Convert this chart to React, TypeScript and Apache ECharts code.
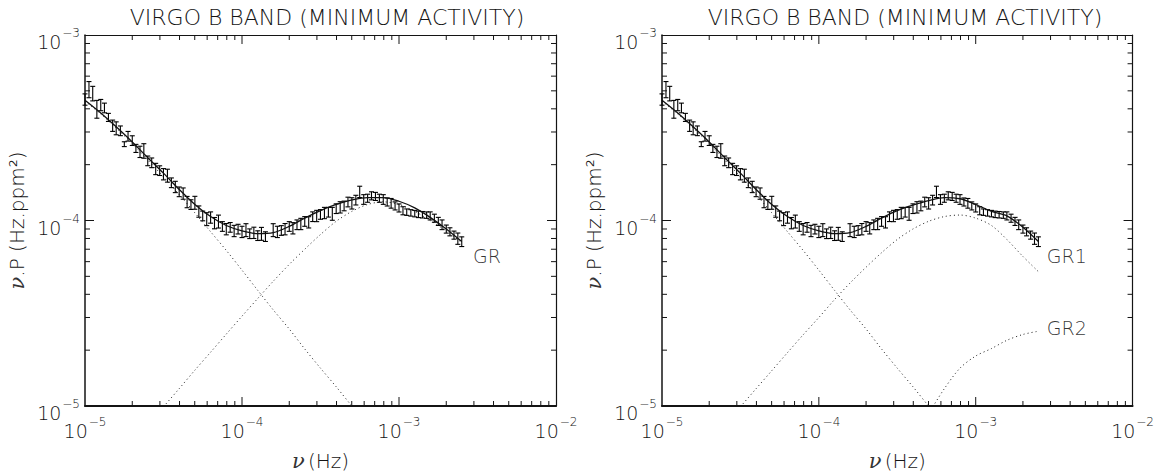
import React, { useEffect, useRef } from "react";
import * as echarts from "echarts";

// ---------- DATA ----------
const binFreq = [
  1.00e-5, 1.06e-5, 1.12e-5, 1.19e-5, 1.26e-5, 1.33e-5, 1.41e-5, 1.50e-5, 1.58e-5, 1.68e-5,
  1.78e-5, 1.88e-5, 2.00e-5, 2.11e-5, 2.24e-5, 2.37e-5, 2.51e-5, 2.66e-5, 2.82e-5, 2.99e-5,
  3.16e-5, 3.35e-5, 3.55e-5, 3.76e-5, 3.98e-5, 4.22e-5, 4.47e-5, 4.73e-5, 5.01e-5, 5.31e-5,
  5.62e-5, 5.96e-5, 6.31e-5, 6.68e-5, 7.08e-5, 7.50e-5, 7.94e-5, 8.41e-5, 8.91e-5, 9.44e-5,
  1.00e-4, 1.06e-4, 1.12e-4, 1.19e-4, 1.26e-4, 1.33e-4, 1.41e-4, 1.58e-4, 1.68e-4, 1.78e-4,
  1.88e-4, 2.00e-4, 2.11e-4, 2.24e-4, 2.37e-4, 2.51e-4, 2.66e-4, 2.82e-4, 2.99e-4, 3.16e-4,
  3.35e-4, 3.55e-4, 3.76e-4, 3.98e-4, 4.22e-4, 4.47e-4, 4.73e-4, 5.01e-4, 5.31e-4, 5.62e-4,
  5.96e-4, 6.31e-4, 6.68e-4, 7.08e-4, 7.50e-4, 7.94e-4, 8.41e-4, 8.91e-4, 9.44e-4, 1.00e-3,
  1.06e-3, 1.12e-3, 1.19e-3, 1.26e-3, 1.33e-3, 1.41e-3, 1.50e-3, 1.58e-3, 1.68e-3, 1.78e-3,
  1.88e-3, 2.00e-3, 2.11e-3, 2.24e-3, 2.37e-3, 2.51e-3,
];
const binPower = [
  4.50e-4, 5.10e-4, 4.85e-4, 4.00e-4, 4.20e-4, 4.05e-4, 3.60e-4, 3.25e-4, 3.15e-4, 3.05e-4,
  2.58e-4, 2.85e-4, 2.70e-4, 2.45e-4, 2.35e-4, 2.38e-4, 2.10e-4, 2.05e-4, 1.90e-4, 1.86e-4,
  1.78e-4, 1.75e-4, 1.60e-4, 1.52e-4, 1.43e-4, 1.40e-4, 1.26e-4, 1.22e-4, 1.25e-4, 1.12e-4,
  1.06e-4, 1.02e-4, 1.04e-4, 9.70e-5, 9.90e-5, 9.30e-5, 9.00e-5, 9.20e-5, 8.80e-5, 9.00e-5,
  8.70e-5, 8.90e-5, 8.50e-5, 8.60e-5, 8.30e-5, 8.50e-5, 8.20e-5, 8.90e-5, 8.70e-5, 8.85e-5,
  9.00e-5, 9.30e-5, 9.10e-5, 9.50e-5, 9.60e-5, 9.90e-5, 9.80e-5, 1.05e-4, 1.06e-4, 1.08e-4,
  1.10e-4, 1.11e-4, 1.09e-4, 1.16e-4, 1.18e-4, 1.20e-4, 1.26e-4, 1.24e-4, 1.29e-4, 1.43e-4,
  1.30e-4, 1.32e-4, 1.36e-4, 1.35e-4, 1.32e-4, 1.30e-4, 1.26e-4, 1.24e-4, 1.20e-4, 1.17e-4,
  1.13e-4, 1.11e-4, 1.10e-4, 1.09e-4, 1.08e-4, 1.075e-4, 1.07e-4, 1.06e-4, 1.03e-4, 9.90e-5,
  9.50e-5, 9.00e-5, 8.70e-5, 8.35e-5, 8.00e-5, 7.70e-5,
];
// relative half-size of each error bar
const binError = [
  0.07, 0.10, 0.09, 0.11, 0.07, 0.06, 0.05, 0.07, 0.08, 0.06,
  0.03, 0.06, 0.06, 0.05, 0.07, 0.09, 0.06, 0.06, 0.07, 0.06,
  0.07, 0.08, 0.06, 0.07, 0.06, 0.07, 0.07, 0.06, 0.08, 0.07,
  0.06, 0.08, 0.07, 0.07, 0.08, 0.06, 0.07, 0.06, 0.07, 0.06,
  0.07, 0.08, 0.06, 0.07, 0.06, 0.08, 0.06, 0.08, 0.07, 0.06,
  0.07, 0.06, 0.07, 0.06, 0.07, 0.06, 0.07, 0.06, 0.07, 0.06,
  0.07, 0.06, 0.08, 0.06, 0.07, 0.06, 0.06, 0.07, 0.06, 0.07,
  0.06, 0.05, 0.05, 0.05, 0.05, 0.06, 0.05, 0.06, 0.05, 0.05,
  0.05, 0.04, 0.04, 0.04, 0.04, 0.04, 0.04, 0.05, 0.05, 0.05,
  0.06, 0.05, 0.05, 0.05, 0.07, 0.06,
];

const fitFreq = [
  1.00e-5, 1.26e-5, 1.58e-5, 2.00e-5, 2.51e-5, 3.16e-5, 3.98e-5, 5.01e-5, 6.31e-5, 7.94e-5,
  1.00e-4, 1.26e-4, 1.58e-4, 2.00e-4, 2.51e-4, 3.16e-4, 3.98e-4, 5.01e-4, 6.31e-4, 7.94e-4,
  1.00e-3, 1.26e-3, 1.58e-3, 2.00e-3, 2.51e-3,
];
const totalFitLeft = [
  4.45e-4, 3.80e-4, 3.20e-4, 2.65e-4, 2.18e-4, 1.80e-4, 1.47e-4, 1.22e-4, 1.05e-4, 9.40e-5,
  8.80e-5, 8.50e-5, 8.60e-5, 9.30e-5, 1.03e-4, 1.13e-4, 1.22e-4, 1.29e-4, 1.33e-4, 1.33e-4,
  1.27e-4, 1.17e-4, 1.04e-4, 9.00e-5, 7.70e-5,
];
const totalFitRight = [
  4.45e-4, 3.80e-4, 3.20e-4, 2.65e-4, 2.18e-4, 1.80e-4, 1.47e-4, 1.22e-4, 1.05e-4, 9.40e-5,
  8.80e-5, 8.50e-5, 8.60e-5, 9.30e-5, 1.03e-4, 1.13e-4, 1.21e-4, 1.28e-4, 1.33e-4, 1.31e-4,
  1.22e-4, 1.12e-4, 1.06e-4, 9.20e-5, 7.70e-5,
];
const lowFreqComponent = [
  4.40e-4, 3.75e-4, 3.15e-4, 2.60e-4, 2.12e-4, 1.72e-4, 1.38e-4, 1.10e-4, 8.70e-5, 6.90e-5,
  5.40e-5, 4.20e-5, 3.30e-5, 2.60e-5, 2.03e-5, 1.60e-5, 1.27e-5, 1.00e-5, 8.00e-6, null,
  null, null, null, null, null,
];
const granulationLeft = [
  null, null, null, null, 7.9e-6, 9.9e-6, 1.24e-5, 1.56e-5, 1.95e-5, 2.44e-5,
  3.05e-5, 3.80e-5, 4.70e-5, 5.80e-5, 7.00e-5, 8.40e-5, 9.90e-5, 1.12e-4, 1.22e-4, 1.26e-4,
  1.22e-4, 1.12e-4, 1.00e-4, 8.80e-5, 7.60e-5,
];
const granulation1Right = [
  null, null, null, null, 7.9e-6, 9.9e-6, 1.24e-5, 1.55e-5, 1.94e-5, 2.42e-5,
  3.00e-5, 3.75e-5, 4.60e-5, 5.60e-5, 6.70e-5, 7.90e-5, 9.00e-5, 9.90e-5, 1.05e-4, 1.07e-4,
  1.03e-4, 9.40e-5, 7.90e-5, 6.40e-5, 5.30e-5,
];
const granulation2Right = [
  null, null, null, null, null, null, null, null, null, null,
  null, null, null, null, null, null, null, 9.1e-6, 1.24e-5, 1.60e-5,
  1.86e-5, 2.04e-5, 2.26e-5, 2.43e-5, 2.53e-5,
];

const titleText = "VIRGO B BAND (MINIMUM ACTIVITY)";
const xRange = [1e-5, 1e-2];
const yRange = [1e-5, 1e-3];
const xDecades = [1e-5, 1e-4, 1e-3];
const yDecades = [1e-5, 1e-4];
const minorMantissas = [2, 3, 4, 5, 6, 7, 8, 9];
const xMajorTicks = [1e-4, 1e-3];
const yMajorTicks = [1e-4];

// ---------- STYLE ----------
const FONT = "DejaVu Sans";
const INK = "#141414";
const MAJOR_LEN = 9;
const MINOR_LEN = 5;

function tickLabel(v: number) {
  const e = Math.round(Math.log10(v));
  return `{b|10}{s|${e < 0 ? "−" : ""}${Math.abs(e)}}`;
}
const tickRich = {
  b: { fontSize: 19, fontFamily: FONT, fontWeight: 200, color: INK, lineHeight: 30 },
  s: { fontSize: 12, fontFamily: FONT, fontWeight: 200, color: INK, verticalAlign: "top", padding: [0, 0, 0, 1] },
};
const nameRich = {
  i: { fontSize: 21, fontFamily: "DejaVu Serif", fontStyle: "italic", fontWeight: 200, color: "#333" },
  n: { fontSize: 20, fontFamily: FONT, fontWeight: 200, color: INK },
};

function pairs(xs: number[], ys: (number | null)[]) {
  return xs.map((x, i) => [x, ys[i]]);
}

const errorData = binFreq.map((f, i) => [f, binPower[i], binError[i]]);

function makeAxes(gridIndex: number) {
  const common = {
    type: "log" as const,
    logBase: 10,
    gridIndex,
    splitLine: { show: false },
    axisTick: { show: false },
    minorTick: { show: false },
  };
  const xAxes = [
    {
      ...common,
      min: xRange[0],
      max: xRange[1],
      position: "bottom",
      axisLine: { show: true, lineStyle: { color: INK, width: 2 } },
      axisLabel: { formatter: tickLabel, rich: tickRich, margin: 10 },
      name: "{i|ν} {n|(Hz)}",
      nameLocation: "middle",
      nameGap: 44,
      nameTextStyle: { rich: nameRich },
    },
    {
      ...common,
      min: xRange[0],
      max: xRange[1],
      position: "top",
      axisLine: { show: true, lineStyle: { color: INK, width: 1.2 } },
      axisLabel: { show: false },
    },
  ];
  const yAxes = [
    {
      ...common,
      min: yRange[0],
      max: yRange[1],
      position: "left",
      axisLine: { show: true, lineStyle: { color: INK, width: 1.5 } },
      axisLabel: { formatter: tickLabel, rich: tickRich, margin: 5, padding: [14, 0, 0, 0] },
      name: "{i|ν}{n|.P (Hz.ppm²)}",
      nameLocation: "middle",
      nameGap: 58,
      nameRotate: 90,
      nameTextStyle: { rich: nameRich },
    },
    {
      ...common,
      min: yRange[0],
      max: yRange[1],
      position: "right",
      axisLine: { show: true, lineStyle: { color: INK, width: 1.2 } },
      axisLabel: { show: false },
    },
  ];
  return { xAxes, yAxes };
}

function errorSeries(axisIndex: number) {
  return {
    type: "custom",
    xAxisIndex: axisIndex,
    yAxisIndex: axisIndex,
    data: errorData,
    encode: { x: 0, y: 1 },
    z: 3,
    renderItem: (_p: any, api: any) => {
      const x = api.value(0);
      const y = api.value(1);
      const e = api.value(2);
      const lo = api.coord([x, y * (1 - e)]);
      const hi = api.coord([x, y * (1 + e)]);
      const w = 2.5;
      const style = { stroke: "#000", lineWidth: 1.1 };
      return {
        type: "group",
        children: [
          { type: "line", shape: { x1: lo[0], y1: lo[1], x2: hi[0], y2: hi[1] }, style },
          { type: "line", shape: { x1: lo[0] - w, y1: lo[1], x2: lo[0] + w, y2: lo[1] }, style },
          { type: "line", shape: { x1: hi[0] - w, y1: hi[1], x2: hi[0] + w, y2: hi[1] }, style },
        ],
      };
    },
  };
}

function lineSeries(axisIndex: number, ys: (number | null)[], dotted: boolean) {
  return {
    type: "line",
    xAxisIndex: axisIndex,
    yAxisIndex: axisIndex,
    data: pairs(fitFreq, ys),
    showSymbol: false,
    smooth: 0.3,
    clip: true,
    lineStyle: dotted
      ? { color: "#1a1a1a", width: 1, type: [1, 3] }
      : { color: "#111", width: 1.3 },
    z: dotted ? 2 : 4,
  };
}

function labelSeries(axisIndex: number, pos: number[], text: string) {
  return {
    type: "scatter",
    xAxisIndex: axisIndex,
    yAxisIndex: axisIndex,
    data: [pos],
    symbolSize: 1,
    itemStyle: { color: "rgba(0,0,0,0)" },
    label: {
      show: true,
      position: "inside",
      formatter: text,
      fontSize: 19,
      fontFamily: FONT,
      fontWeight: 200,
      color: "#000",
    },
  };
}

// tick marks on all four sides, placed through the axes' own scales
function buildTicks(chart: any, gridIndex: number) {
  const out: any[] = [];
  const style = { stroke: INK, lineWidth: 1 };
  const finder = { gridIndex };
  const xTicks: number[][] = [];
  const yTicks: number[][] = [];
  xMajorTicks.forEach((v) => xTicks.push([v, MAJOR_LEN]));
  yMajorTicks.forEach((v) => yTicks.push([v, MAJOR_LEN]));
  xDecades.forEach((d) => minorMantissas.forEach((m) => xTicks.push([m * d, MINOR_LEN])));
  yDecades.forEach((d) => minorMantissas.forEach((m) => yTicks.push([m * d, MINOR_LEN])));
  xTicks.forEach(([v, len]) => {
    const b = chart.convertToPixel(finder, [v, yRange[0]]);
    const t = chart.convertToPixel(finder, [v, yRange[1]]);
    out.push({ type: "line", silent: true, z: 100, shape: { x1: b[0], y1: b[1], x2: b[0], y2: b[1] - len }, style });
    out.push({ type: "line", silent: true, z: 100, shape: { x1: t[0], y1: t[1], x2: t[0], y2: t[1] + len }, style });
  });
  yTicks.forEach(([v, len]) => {
    const l = chart.convertToPixel(finder, [xRange[0], v]);
    const r = chart.convertToPixel(finder, [xRange[1], v]);
    out.push({ type: "line", silent: true, z: 100, shape: { x1: l[0], y1: l[1], x2: l[0] + len, y2: l[1] }, style });
    out.push({ type: "line", silent: true, z: 100, shape: { x1: r[0], y1: r[1], x2: r[0] - len, y2: r[1] }, style });
  });
  return out;
}

export default function App() {
  const ref = useRef<HTMLDivElement>(null);
  useEffect(() => {
    if (!ref.current) return;
    const chart = echarts.init(ref.current, undefined, { renderer: "svg" });
    const a0 = makeAxes(0);
    const a1 = makeAxes(1);
    const titleStyle = { fontSize: 22, fontFamily: FONT, fontWeight: 200, color: INK };
    chart.setOption({
      animation: false,
      backgroundColor: "#ffffff",
      title: [
        { text: titleText, left: 322, top: 1, textAlign: "center", textStyle: titleStyle },
        { text: titleText, left: 900, top: 1, textAlign: "center", textStyle: titleStyle },
      ],
      grid: [
        { left: 85, top: 35, width: 471, height: 387 },
        { left: 662, top: 35, width: 473, height: 387 },
      ],
      xAxis: [...a0.xAxes, ...a1.xAxes],
      yAxis: [...a0.yAxes, ...a1.yAxes],
      series: [
        errorSeries(0),
        lineSeries(0, totalFitLeft, false),
        lineSeries(0, lowFreqComponent, true),
        lineSeries(0, granulationLeft, true),
        labelSeries(0, [3.63e-3, 6.44e-5], "GR"),
        errorSeries(2),
        lineSeries(2, totalFitRight, false),
        lineSeries(2, lowFreqComponent, true),
        lineSeries(2, granulation1Right, true),
        lineSeries(2, granulation2Right, true),
        labelSeries(2, [3.81e-3, 6.44e-5], "GR1"),
        labelSeries(2, [3.81e-3, 2.64e-5], "GR2"),
      ],
    });
    chart.setOption({ graphic: [...buildTicks(chart, 0), ...buildTicks(chart, 1)] });
    return () => chart.dispose();
  }, []);
  return (
    <div
      ref={ref}
      style={{ position: "fixed", left: 0, top: 0, width: 1157, height: 476, background: "#fff" }}
    />
  );
}
